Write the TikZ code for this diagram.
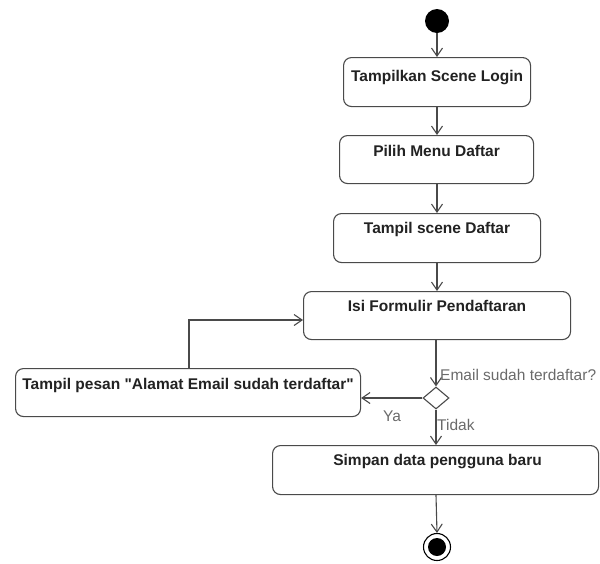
\documentclass[tikz,border=0pt]{standalone}
\usepackage{fontspec}
\setmainfont{Liberation Sans}
\usetikzlibrary{arrows.meta,shapes.geometric}
\definecolor{linec}{HTML}{4A4A4A}
\definecolor{txtc}{HTML}{222222}
\definecolor{lblc}{HTML}{6A6A6A}
\begin{document}
\begin{tikzpicture}[x=1pt,y=-1pt,
  actbox/.style={draw=linec, line width=1.1pt, rounded corners=8pt, rectangle, inner sep=0pt, anchor=north west},
  acttext/.style={anchor=base, text=txtc, font=\fontsize{15.5}{18}\selectfont\bfseries, inner sep=0pt},
  lbl/.style={anchor=base west, text=lblc, font=\fontsize{15.5}{18}\selectfont, inner sep=0pt},
  flow/.style={draw=linec, line width=1.1pt, -{Straight Barb[length=8pt,width=11pt,line width=1.1pt]}},
  plain/.style={draw=linec, line width=1.1pt}
]
\useasboundingbox (0,0) rectangle (600,563);

\node[circle, fill=black, minimum size=24pt, inner sep=0pt] (start) at (437,21) {};

\node[actbox, minimum width=187pt, minimum height=49pt] (b1) at (343,57) {};
\node[acttext] (t1) at ([yshift=-24pt]b1.north) {Tampilkan Scene Login};

\node[actbox, minimum width=194pt, minimum height=48pt] (b2) at (339,135) {};
\node[acttext] (t2) at ([yshift=-21pt]b2.north) {Pilih Menu Daftar};

\node[actbox, minimum width=207pt, minimum height=49pt] (b3) at (333,213) {};
\node[acttext] (t3) at ([yshift=-20pt]b3.north) {Tampil scene Daftar};

\node[actbox, minimum width=267pt, minimum height=48pt] (b4) at (303,291) {};
\node[acttext] (t4) at ([yshift=-20pt]b4.north) {Isi Formulir Pendaftaran};

\node[diamond, draw=linec, line width=1.1pt, minimum width=26pt, minimum height=22pt, inner sep=0pt] (d) at (436,398) {};

\node[actbox, minimum width=345pt, minimum height=48pt] (b5) at (15,368) {};
\node[acttext] (t5) at ([yshift=-21pt]b5.north) {Tampil pesan \textquotedbl Alamat Email sudah terdaftar\textquotedbl};

\node[actbox, minimum width=326pt, minimum height=49pt] (b6) at (272,445) {};
\node[acttext] (t6) at ([yshift=-20pt,xshift=2pt]b6.north) {Simpan data pengguna baru};

\node[circle, draw=black, line width=1.1pt, minimum size=27pt, inner sep=0pt] (endo) at (437,547) {};
\node[circle, fill=black, minimum size=18pt, inner sep=0pt] (endi) at (437,547) {};

\coordinate (c4) at (436,339);
\coordinate (c6) at (436,445);
\coordinate (bend) at (189,320);

\draw[flow] (start) -- (start |- b1.north);
\draw[flow] (b1.south -| start) -- (start |- b2.north);
\draw[flow] (b2.south -| start) -- (start |- b3.north);
\draw[flow] (b3.south -| start) -- (start |- b4.north);
\draw[flow] (c4) -- (d.north);
\draw[flow] (d.west) -- (b5.east |- d.west);
\draw[flow] (d.south) -- (c6);
\draw[flow] (c6 |- b6.south) -- (endo.north);
\draw[flow] (bend |- b5.north) -- (bend) -- (b4.west |- bend);

\node[lbl] (l1) at (440,380) {Email sudah terdaftar?};
\node[lbl] (l2) at (383,421) {Ya};
\node[lbl] (l3) at (437,430) {Tidak};
\end{tikzpicture}
\end{document}
